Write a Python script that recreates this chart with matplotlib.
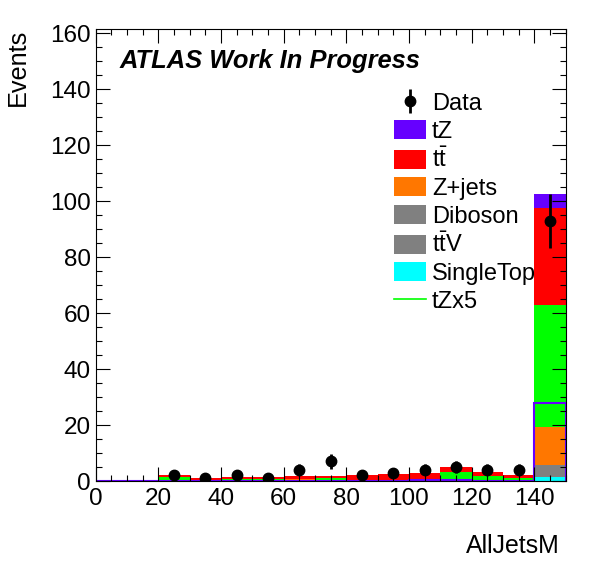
import numpy as np
import matplotlib
matplotlib.use("Agg")
import matplotlib.pyplot as plt
from matplotlib.patches import Patch
from matplotlib.lines import Line2D
from matplotlib.ticker import MultipleLocator

plt.rcParams['font.family'] = ['Liberation Sans', 'DejaVu Sans']
plt.rcParams['mathtext.fontset'] = 'custom'
plt.rcParams['mathtext.rm'] = 'Liberation Sans'
plt.rcParams['mathtext.it'] = 'Liberation Sans:italic'

# ---- data (bins of width 10 from 0 to 150) ----
bin_edges = [0, 10, 20, 30, 40, 50, 60, 70, 80, 90, 100, 110, 120, 130, 140, 150]
data_counts = [0, 0, 2, 1, 2, 1, 4, 7, 2, 3, 4, 5, 4, 4, 93]
single_top = [0, 0, 0, 0, 0, 0, 0, 0, 0, 0, 0, 0, 0, 0, 1.5]
ttv = [0, 0, 0.05, 0.05, 0.05, 0.05, 0.05, 0.05, 0.05, 0.05, 0.05, 0.05, 0.05, 0.05, 2.1]
diboson = [0, 0, 0.05, 0.05, 0.05, 0.05, 0.05, 0.05, 0.05, 0.05, 0.05, 0.05, 0.05, 0.05, 2.1]
zjets = [0, 0, 0.25, 0.3, 0.2, 0.2, 0.5, 0.4, 0.3, 0.2, 0.2, 0.2, 0.2, 0.2, 13.5]
other_green = [0, 0, 1.2, 0.1, 0.5, 0.5, 0.2, 0.5, 0.1, 0.1, 0.2, 2.8, 1.4, 0.7, 43.7]
ttbar = [0, 0, 0.72, 0.57, 0.75, 0.6, 1.1, 0.9, 1.77, 2.1, 2.36, 1.9, 1.5, 1.15, 34.7]
tz = [0, 0, 0.03, 0.02, 0.03, 0.02, 0.03, 0.03, 0.03, 0.03, 0.04, 0.04, 0.03, 0.03, 5.1]
tzx5 = [0, 0, 0.15, 0.1, 0.15, 0.1, 0.15, 0.15, 0.15, 0.15, 0.2, 0.2, 0.15, 0.15, 28.0]

stack = [
    (single_top, '#00ffff', 'SingleTop'),
    (ttv, '#808080', r't$\bar{\mathrm{t}}$V'),
    (diboson, '#808080', 'Diboson'),
    (zjets, '#ff7700', 'Z+jets'),
    (other_green, '#00ff00', None),
    (ttbar, '#ff0000', r't$\bar{\mathrm{t}}$'),
    (tz, '#6600ff', 'tZ'),
]

W, H = 596, 572
fig = plt.figure(figsize=(W / 100, H / 100), dpi=100)
ax = fig.add_axes([95.7 / W, (H - 481) / H, (565.5 - 95.7) / W, (481 - 28.7) / H])

edges = np.array(bin_edges, dtype=float)
base = np.zeros(len(data_counts))
for vals, col, lab in stack:
    v = np.array(vals, dtype=float)
    ax.stairs(base + v, edges, baseline=base.copy(), fill=True, color=col, lw=0)
    base = base + v

ax.stairs(np.array(tzx5), edges, baseline=0, fill=False, color='#6600ff', lw=1.5)

centers = 0.5 * (edges[:-1] + edges[1:])
d = np.array(data_counts, dtype=float)
m = d > 0
eb = ax.errorbar(centers[m], d[m], yerr=np.sqrt(d[m]), fmt='o', color='black',
                 ms=7.5, elinewidth=2.0, capsize=0, zorder=5)

ax.set_xlim(0, 150)
ax.set_ylim(0, 161.65)
ax.xaxis.set_major_locator(MultipleLocator(20))
ax.xaxis.set_minor_locator(MultipleLocator(5))
ax.yaxis.set_major_locator(MultipleLocator(20))
ax.yaxis.set_minor_locator(MultipleLocator(5))
ax.tick_params(which='both', direction='in', top=True, right=True, width=0.8)
ax.tick_params(which='major', length=10)
ax.tick_params(which='minor', length=4)
ax.tick_params(axis='x', which='major', labelsize=17.5, pad=5)
ax.tick_params(axis='y', which='major', labelsize=17.5, pad=3.5)
for s in ax.spines.values():
    s.set_linewidth(0.8)

fig.text(560 / W, 1 - 553 / H, 'AllJetsM', ha='right', va='baseline', fontsize=17.9)
fig.text(25 / W, 1 - 29 / H, 'Events', rotation=90, rotation_mode='anchor',
         ha='right', va='baseline', fontsize=18.2)
fig.text(120 / W, 1 - 68 / H, 'ATLAS Work In Progress', ha='left', va='baseline',
         fontsize=18.4, fontweight='bold', fontstyle='italic')

handles = [eb]
labels = ['Data']
for vals, col, lab in [stack[6], stack[5], stack[3], stack[2], stack[1], stack[0]]:
    handles.append(Patch(facecolor=col, edgecolor='none'))
    labels.append(lab)
handles.append(Line2D([], [], color='#00ff00', lw=1.2))
labels.append('tZx5')

ax.legend(handles, labels, loc='upper left', bbox_to_anchor=(394 / W, 1 - 92.5 / H),
          bbox_transform=fig.transFigure, frameon=False, fontsize=17,
          handlelength=1.36, handleheight=0.85, handletextpad=0.25,
          labelspacing=0.215, borderpad=0, borderaxespad=0)

fig.savefig('out.png', dpi=100)
